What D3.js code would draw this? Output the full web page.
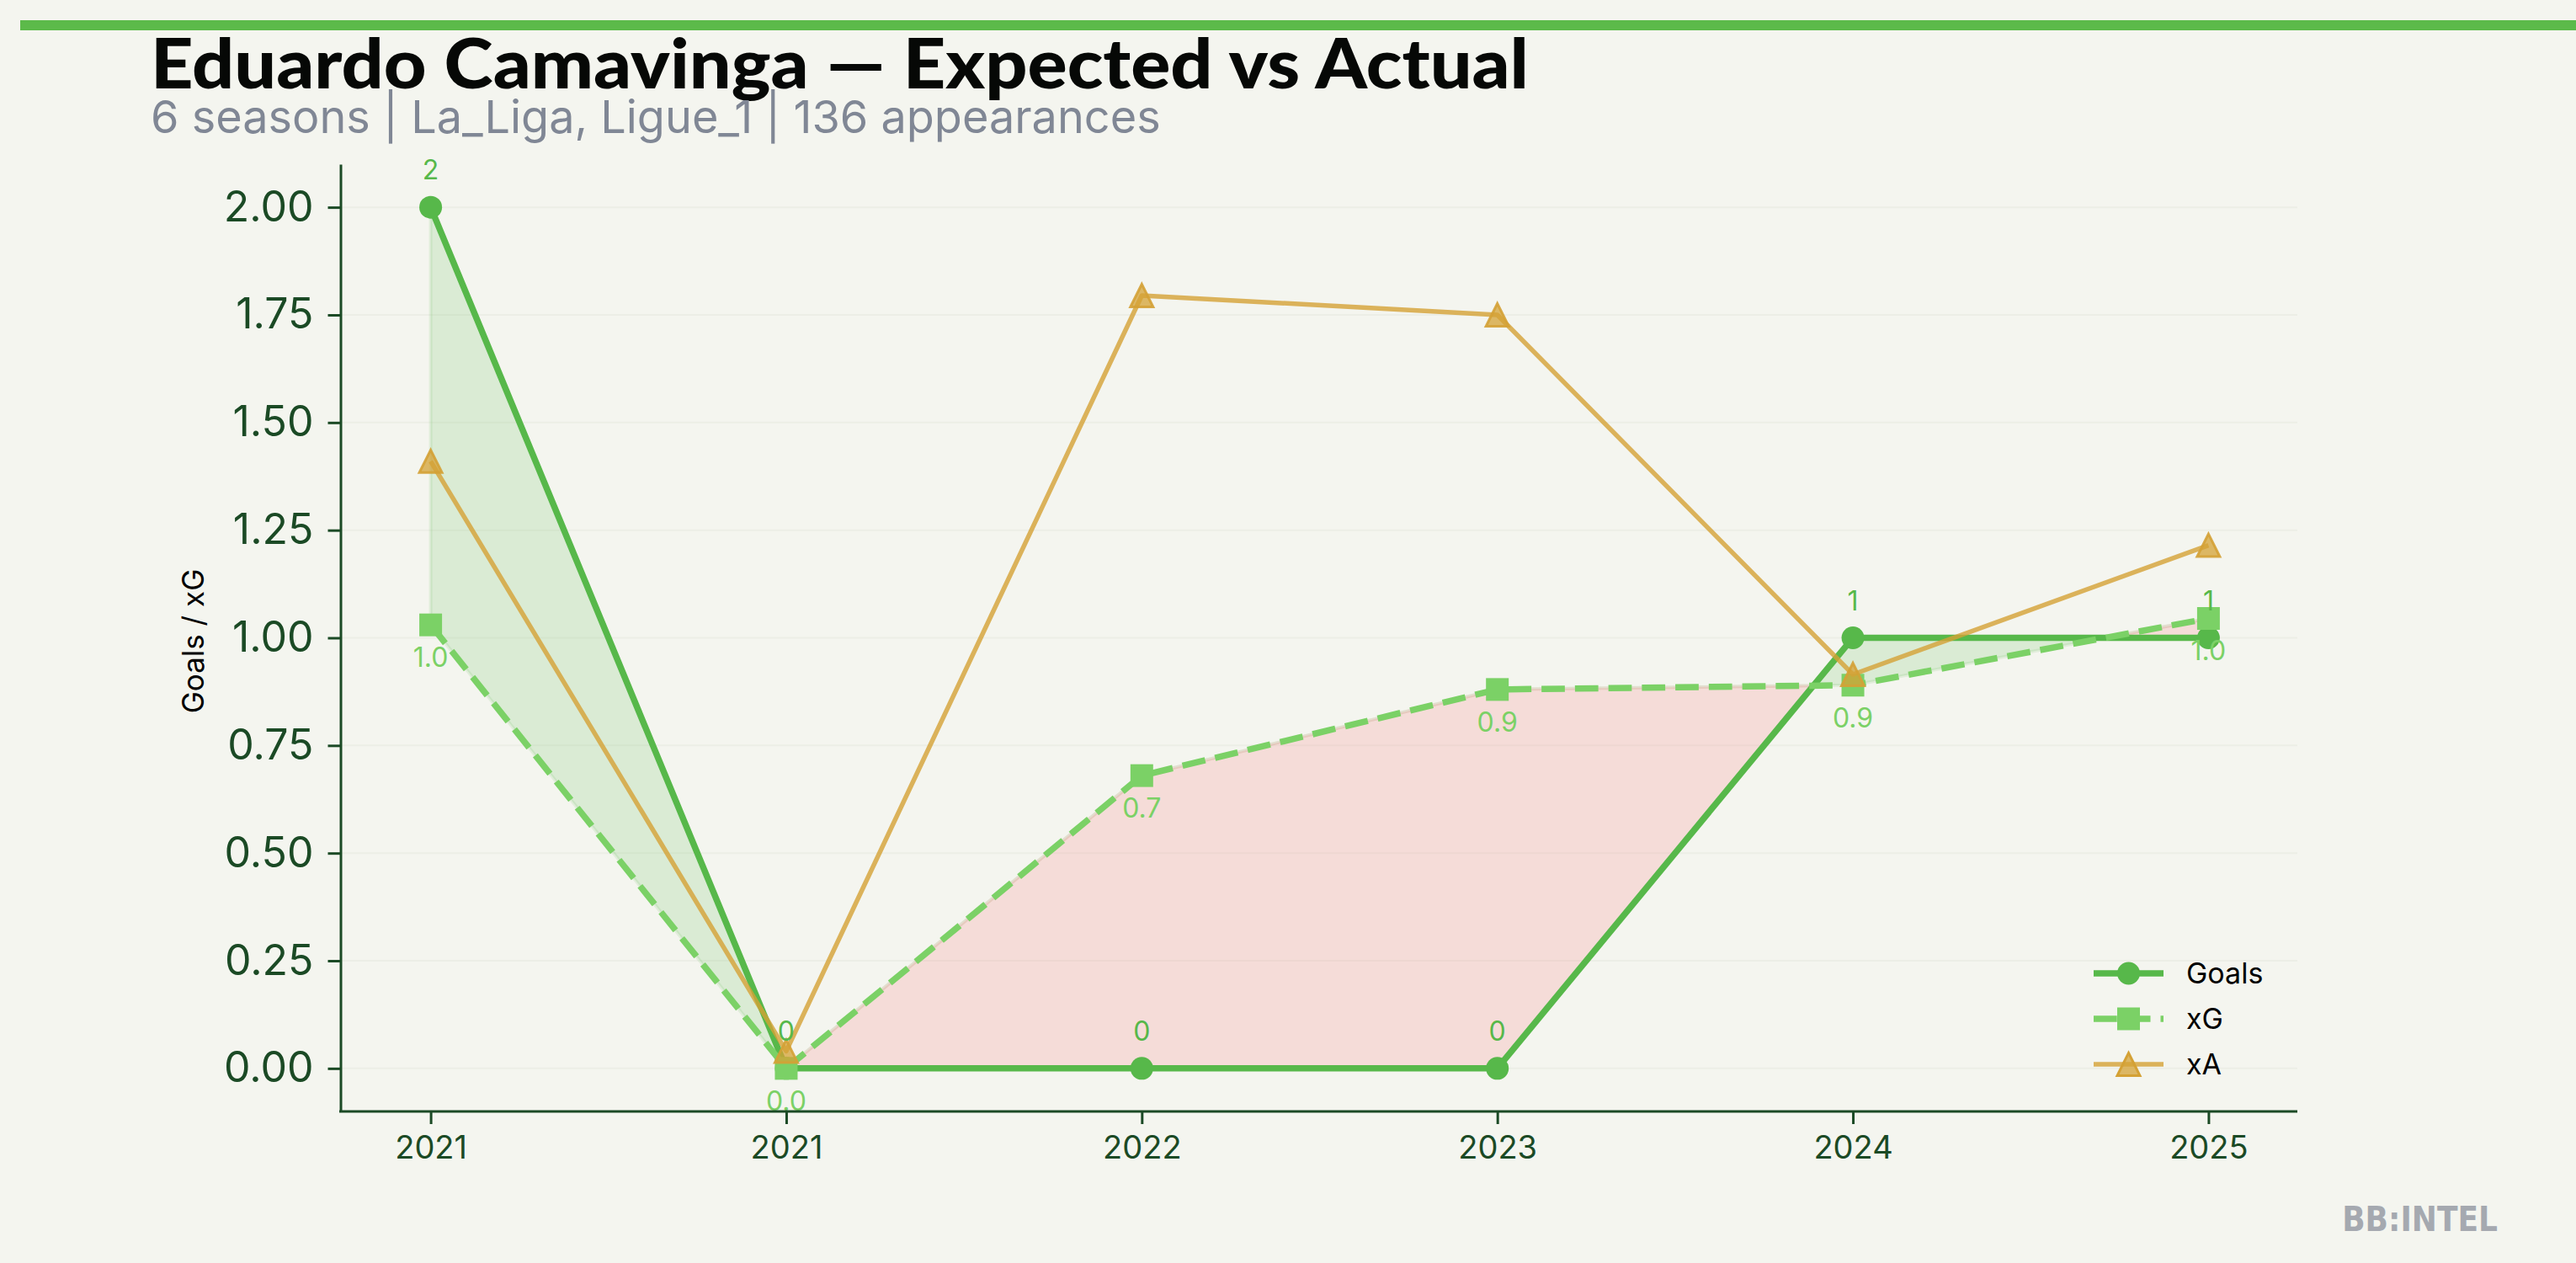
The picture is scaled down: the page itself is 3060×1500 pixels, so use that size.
<!DOCTYPE html>
<html>
<head>
<meta charset="utf-8">
<script src="https://cdn.jsdelivr.net/npm/d3@7"></script>
<style>
  body { margin: 0; background: #f4f5ef; }
  svg { display: block; }
</style>
</head>
<body>
<svg id="drawing_region"></svg>
<script>
// values
const seasons = ['2021', '2021', '2022', '2023', '2024', '2025'];
const goals = [2, 0, 0, 0, 1, 1];
const xg = [1.03, 0.0, 0.68, 0.88, 0.89, 1.045];
const xa = [1.41, 0.04, 1.795, 1.75, 0.915, 1.215];
const yTicks = [0, 0.25, 0.5, 0.75, 1.0, 1.25, 1.5, 1.75, 2.0];
const seriesNames = ['Goals', 'xG', 'xA'];

const titleText = 'Eduardo Camavinga \u2014 Expected vs Actual';
const subtitleText = '6 seasons | La_Liga, Ligue_1 | 136 appearances';

class ExpectedChart {
  constructor( config ) {
    this.config = config;
    this.init();
  }
  init() {
    let self = this;
    const c = self.config;

    self.svg = d3.select( c.parent )
      .attr('width', c.width)
      .attr('height', c.height);

    self.svg.append('rect')
      .attr('width', c.width).attr('height', c.height)
      .attr('fill', '#f4f5ef');

    self.x = d3.scalePoint()
      .domain( d3.range(seasons.length) )
      .range([c.left, c.right])
      .padding(0.25);

    self.y = d3.scaleLinear()
      .domain([-0.1, 2.1])
      .range([c.bottom, c.top]);
  }
  render() {
    let self = this;
    const c = self.config;
    const x = self.x, y = self.y;
    const axisColor = '#1b4a25';
    const cGoals = '#57b84a', cXg = '#7bd166', cXa = '#d4a135';

    // header
    self.svg.append('rect')
      .attr('x', 24).attr('y', 24)
      .attr('width', c.width - 24).attr('height', 12)
      .attr('fill', '#5cba4a');

    self.svg.append('text')
      .attr('x', 179).attr('y', 105)
      .attr('font-family', 'Lato, sans-serif')
      .attr('font-weight', 900)
      .attr('font-size', 82)
      .attr('textLength', 1637)
      .attr('lengthAdjust', 'spacingAndGlyphs')
      .attr('fill', '#060806')
      .text(titleText);

    self.svg.append('text')
      .attr('x', 179).attr('y', 158)
      .attr('font-family', 'Inter, sans-serif')
      .attr('font-size', 54)
      .attr('fill', '#808795')
      .text(subtitleText);

    // grid
    self.svg.append('g')
      .selectAll('line')
      .data(yTicks)
      .join('line')
      .attr('x1', c.left).attr('x2', c.right)
      .attr('y1', d => y(d)).attr('y2', d => y(d))
      .attr('stroke', '#eceee6')
      .attr('stroke-width', 2);

    // fill between goals and xG, split where they cross
    const pts = [];
    for (let i = 0; i < goals.length; i++) {
      pts.push({ i: i, g: goals[i], e: xg[i] });
      if (i < goals.length - 1) {
        const d0 = goals[i] - xg[i], d1 = goals[i + 1] - xg[i + 1];
        if (d0 * d1 < 0) {
          const t = d0 / (d0 - d1);
          const gv = goals[i] + t * (goals[i + 1] - goals[i]);
          pts.push({ i: i + t, g: gv, e: gv });
        }
      }
    }
    const px = i => {
      const lo = Math.floor(i), hi = Math.min(lo + 1, goals.length - 1);
      return x(lo) + (i - lo) * (x(hi) - x(lo));
    };

    const areaOver = d3.area()
      .x(d => px(d.i))
      .y0(d => y(d.e))
      .y1(d => y(Math.max(d.g, d.e)));
    const areaUnder = d3.area()
      .x(d => px(d.i))
      .y0(d => y(d.g))
      .y1(d => y(Math.max(d.g, d.e)));

    self.svg.append('path')
      .attr('d', areaOver(pts))
      .attr('fill', cGoals).attr('fill-opacity', 0.16)
      .attr('stroke', cGoals).attr('stroke-opacity', 0.12)
      .attr('stroke-width', 4);
    self.svg.append('path')
      .attr('d', areaUnder(pts))
      .attr('fill', '#f7666a').attr('fill-opacity', 0.17)
      .attr('stroke', '#f7666a').attr('stroke-opacity', 0.1)
      .attr('stroke-width', 4);

    // triangle marker like matplotlib '^'
    const tri = {
      draw(ctx, size) {
        const h = Math.sqrt(size) / 2;
        ctx.moveTo(0, -h);
        ctx.lineTo(h, h);
        ctx.lineTo(-h, h);
        ctx.closePath();
      }
    };

    const line = vals => d3.line()
      .x((d, i) => x(i))
      .y(d => y(d))(vals);

    const series = [
      { name: 'Goals', vals: goals, color: cGoals, width: 7.5, dash: null,
        sym: d3.symbolCircle, size: Math.PI * 13.5 * 13.5, op: 1 },
      { name: 'xG', vals: xg, color: cXg, width: 7.5, dash: '27.75,12',
        sym: d3.symbolSquare, size: 27 * 27, op: 1 },
      { name: 'xA', vals: xa, color: cXa, width: 5.5, dash: null,
        sym: tri, size: 27 * 27, op: 0.8 }
    ];

    series.forEach( s => {
      self.svg.append('path')
        .attr('d', line(s.vals))
        .attr('fill', 'none')
        .attr('stroke', s.color)
        .attr('stroke-width', s.width)
        .attr('stroke-opacity', s.op)
        .attr('stroke-dasharray', s.dash)
        .attr('stroke-linejoin', 'round');

      self.svg.append('g')
        .selectAll('path')
        .data(s.vals)
        .join('path')
        .attr('transform', (d, i) => `translate(${x(i)},${y(d)})`)
        .attr('d', d3.symbol().type(s.sym).size(s.size))
        .attr('fill', s.color)
        .attr('fill-opacity', s.name === 'xA' ? 0.75 : 1)
        .attr('stroke', s.name === 'xA' ? s.color : 'none')
        .attr('stroke-opacity', 0.9)
        .attr('stroke-width', 3);
    });

    // value labels
    self.svg.append('g')
      .selectAll('text')
      .data(goals)
      .join('text')
      .attr('x', (d, i) => x(i))
      .attr('y', d => y(d) - 33)
      .attr('text-anchor', 'middle')
      .attr('font-family', 'Inter, sans-serif')
      .attr('font-size', 32)
      .attr('fill', cGoals)
      .text(d => d3.format('d')(d));

    self.svg.append('g')
      .selectAll('text')
      .data(xg)
      .join('text')
      .attr('x', (d, i) => x(i))
      .attr('y', d => y(d) + 50)
      .attr('text-anchor', 'middle')
      .attr('font-family', 'Inter, sans-serif')
      .attr('font-size', 32)
      .attr('fill', cXg)
      .text(d => d3.format('.1f')(d));

    // axes
    const yAxis = self.svg.append('g')
      .attr('transform', `translate(${c.left - 1.5},0)`)
      .call( d3.axisLeft(y)
        .tickValues(yTicks)
        .tickFormat(d3.format('.2f'))
        .tickSize(15)
        .tickSizeOuter(0)
        .tickPadding(17) );

    const xAxis = self.svg.append('g')
      .attr('transform', `translate(0,${c.bottom})`)
      .call( d3.axisBottom(x)
        .tickFormat(i => seasons[i])
        .tickSize(15)
        .tickSizeOuter(0)
        .tickPadding(14) );
    xAxis.select('.domain').attr('d', `M${c.left - 3},0H${c.right}`);

    [yAxis, xAxis].forEach( a => {
      a.select('.domain').attr('stroke', axisColor).attr('stroke-width', 3);
      a.selectAll('.tick line').attr('stroke', axisColor).attr('stroke-width', 3);
      a.selectAll('.tick text')
        .attr('fill', axisColor)
        .attr('font-family', 'Inter, sans-serif');
    });
    yAxis.selectAll('.tick text').attr('font-size', 50);
    xAxis.selectAll('.tick text').attr('font-size', 38);

    self.svg.append('text')
      .attr('transform', `translate(242,${(c.top + c.bottom) / 2 + 4}) rotate(-90)`)
      .attr('text-anchor', 'middle')
      .attr('font-family', 'Inter, sans-serif')
      .attr('font-size', 35)
      .attr('fill', '#000')
      .text('Goals / xG');

    // legend
    const legend = self.svg.append('g')
      .selectAll('g')
      .data(series)
      .join('g')
      .attr('transform', (d, i) => `translate(2487,${1156 + i * 54})`);
    legend.append('line')
      .attr('x1', 0).attr('x2', 83)
      .attr('stroke', d => d.color)
      .attr('stroke-width', d => d.width)
      .attr('stroke-opacity', d => d.op)
      .attr('stroke-dasharray', d => d.dash);
    legend.append('path')
      .attr('transform', 'translate(41.5,0)')
      .attr('d', d => d3.symbol().type(d.sym).size(d.size)())
      .attr('fill', d => d.color)
      .attr('fill-opacity', d => d.name === 'xA' ? 0.75 : 1)
      .attr('stroke', d => d.name === 'xA' ? d.color : 'none')
      .attr('stroke-width', 3);
    legend.append('text')
      .attr('x', 110)
      .attr('dy', '0.35em')
      .attr('font-family', 'Inter, sans-serif')
      .attr('font-size', 34)
      .attr('fill', '#000')
      .text(d => d.name);

    // watermark
    self.svg.append('text')
      .attr('x', 2967).attr('y', 1462)
      .attr('text-anchor', 'end')
      .attr('font-family', 'DejaVu Sans, sans-serif')
      .attr('font-stretch', 'condensed')
      .attr('font-weight', 'bold')
      .attr('font-size', 40)
      .attr('fill', '#a5a9b0')
      .text('BB:INTEL');
  }
}

const chart = new ExpectedChart({
  parent: '#drawing_region',
  width: 3060, height: 1500,
  left: 406, right: 2729, top: 195, bottom: 1320
});
chart.render();
</script>
</body>
</html>
